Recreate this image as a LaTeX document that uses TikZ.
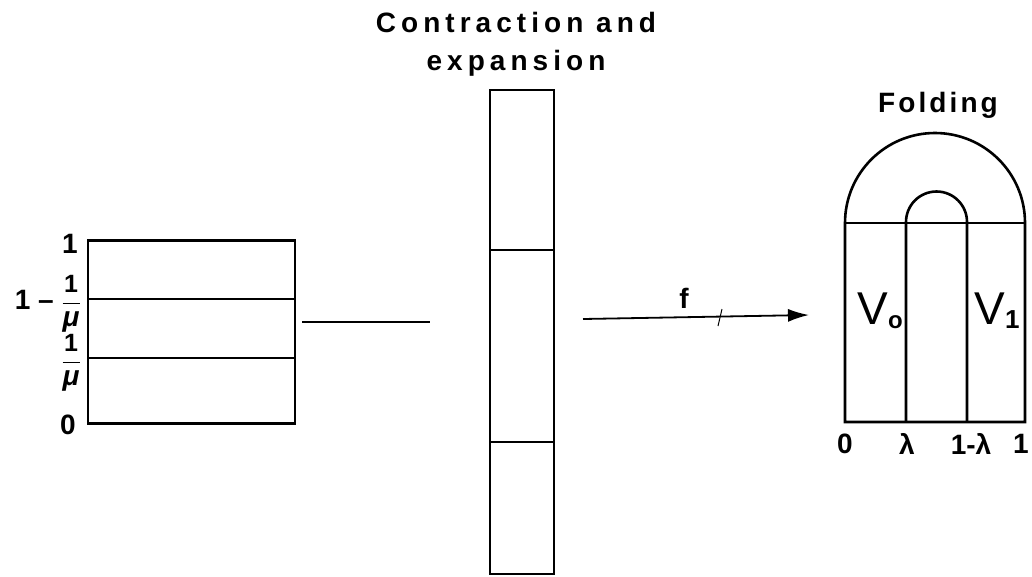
\documentclass[tikz,border=0pt]{standalone}
\usepackage{fontspec}
\setmainfont{Liberation Sans}
\usetikzlibrary{arrows.meta}
\tikzset{
  stroke/.style={line width=2.6pt, line join=miter},
  lbl/.style={inner sep=0pt, font=\fontsize{28}{28}\selectfont\bfseries},
  title/.style={inner sep=0pt, align=center,
    font=\fontsize{28}{38}\selectfont\bfseries\addfontfeature{LetterSpace=18}},
  vlbl/.style={inner sep=0pt, font=\fontsize{46}{46}\selectfont},
}
\newcommand\invmu{$\displaystyle\frac{\mbox{\fontsize{25}{25}\selectfont 1}}{\mbox{\itshape μ}}$}
\begin{document}
\begin{tikzpicture}[x=1pt, y=-1pt]
\useasboundingbox (0,0) rectangle (1032,576);

% unit square, cut into three horizontal bands
\node[stroke, draw, inner sep=0pt, minimum width=207pt, minimum height=183pt] (sq) at (191.5,332) {};
\draw[stroke] (88,299) -- (295,299);
\draw[stroke] (88,358) -- (295,358);
\node[lbl] (y1) at (70,244) {1};
\node[lbl, anchor=east] (y1m) at (81,304) {1 -- \invmu};
\node[lbl, anchor=east] (ymu) at (81,363) {\invmu};
\node[lbl] (y0) at (68,425) {0};

% stretched strip
\node[title] (ttl) at (516,44) {Contraction and\\expansion};
\node[stroke, draw, inner sep=0pt, minimum width=64pt, minimum height=484pt] (strip) at (522,332) {};
\draw[stroke] (490,250) -- (554,250);
\draw[stroke] (490,442) -- (554,442);

% maps between the stages
\coordinate (l1) at (302,322);
\coordinate (l2) at (430,322);
\draw[line width=1.8pt] (l1) -- (l2);
\coordinate (a1) at (583,319);
\coordinate (a2) at (809,315);
\draw[line width=1.8pt, -{Latex[length=21pt,width=13pt]}] (a1) -- (a2);
\draw[line width=1pt] (718,326) -- (722,309);
\node[lbl] (f) at (684,298) {f};

% folded horseshoe
\node[title, font=\fontsize{28}{28}\selectfont\bfseries\addfontfeature{LetterSpace=11}] (fold) at (938,105) {Folding};
\draw[stroke] (845,422) -- (845,223) arc[start angle=180, end angle=360, radius=90] -- (1025,422) -- cycle;
\draw[stroke] (845,223) -- (1025,223);
\draw[stroke] (906,422) -- (906,222) arc[start angle=180, end angle=360, radius=30.5] -- (967,422);
\node[vlbl] (v0) at (880,311) {V{\fontsize{24}{24}\selectfont\bfseries\raisebox{-4pt}{o}}};
\node[vlbl] (v1) at (997,311) {V{\fontsize{26}{26}\selectfont\bfseries\raisebox{-4pt}{1}}};
\node[lbl] (x0) at (845,444) {0};
\node[lbl] (xl) at (907,444) {λ};
\node[lbl] (xml) at (971,444) {1-λ};
\node[lbl] (x1) at (1021,444) {1};
\end{tikzpicture}
\end{document}
